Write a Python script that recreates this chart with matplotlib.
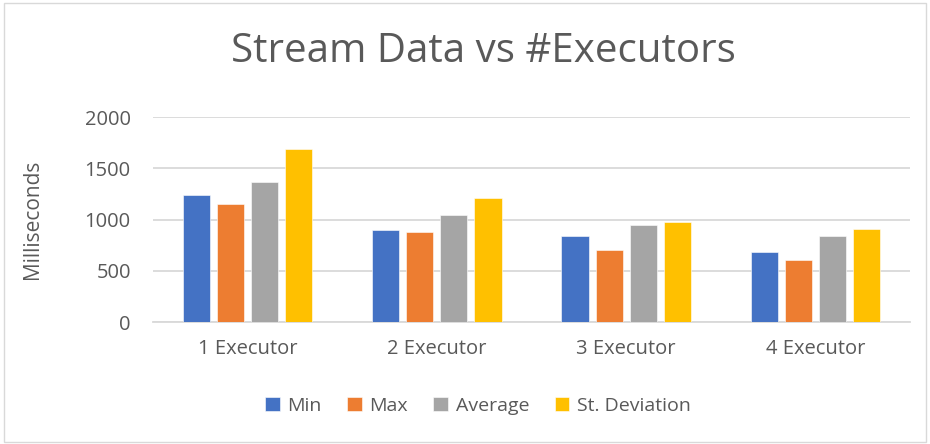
import matplotlib
matplotlib.use("Agg")
import matplotlib.pyplot as plt
import numpy as np
from matplotlib.patches import Rectangle

categories = ["1 Executor", "2 Executor", "3 Executor", "4 Executor"]
series_names = ["Min", "Max", "Average", "St. Deviation"]
min_vals = [1239, 901, 842, 680]
max_vals = [1148, 878, 706, 605]
avg_vals = [1363, 1047, 950, 839]
std_vals = [1691, 1206, 979, 904]
yticks = [0, 500, 1000, 1500, 2000]

colors = ["#4472C4", "#ED7D31", "#A5A5A5", "#FFC000"]
text_color = "#595959"
plt.rcParams['font.family'] = ['Open Sans', 'DejaVu Sans']

fig = plt.figure(figsize=(9.3, 4.44), dpi=100)
ax = fig.add_axes([153/930, 1 - 322/444, (910-153)/930, (322-117)/444])

x = np.arange(len(categories))
width = 0.143
step = 0.18
all_vals = [min_vals, max_vals, avg_vals, std_vals]
for i, (name, vals, c) in enumerate(zip(series_names, all_vals, colors)):
    ax.bar(x + (i - 1.5) * step, vals, width, color=c, label=name, zorder=3,
           edgecolor="white", linewidth=0.4)

ax.set_xlim(-0.5, len(categories) - 0.5)
ax.set_ylim(0, 2000)
ax.set_yticks(yticks)
ax.set_yticklabels([str(v) for v in yticks])
ax.set_xticks(x)
ax.set_xticklabels(categories)
ax.grid(axis="y", color="#D9D9D9", linewidth=1.3, zorder=0)
for s in ["top", "right", "left"]:
    ax.spines[s].set_visible(False)
ax.spines["bottom"].set_color("#D9D9D9")
ax.spines["bottom"].set_linewidth(1.3)
ax.tick_params(axis="both", length=0, colors=text_color, labelsize=14.5)
ax.tick_params(axis="x", pad=12)
ax.tick_params(axis="y", pad=16)
ax.set_ylabel("Milliseconds", color=text_color, fontsize=15, labelpad=30)

fig.text(483/930, 1 - 52/444, "Stream Data vs #Executors", ha="center", va="center",
         fontsize=29, color=text_color)

handles, labels = ax.get_legend_handles_labels()
fig.legend(handles, labels, loc="center", bbox_to_anchor=(478/930, 1 - 406/444), ncol=4,
           frameon=False, fontsize=14, labelcolor=text_color, handlelength=0.75,
           handleheight=0.75, handletextpad=0.4, columnspacing=1.3)

fig.patches.append(Rectangle((0.004, 0.004), 0.992, 0.99, transform=fig.transFigure,
                             fill=False, edgecolor="#D9D9D9", linewidth=1))

fig.savefig("out.png", dpi=100, facecolor="white")
